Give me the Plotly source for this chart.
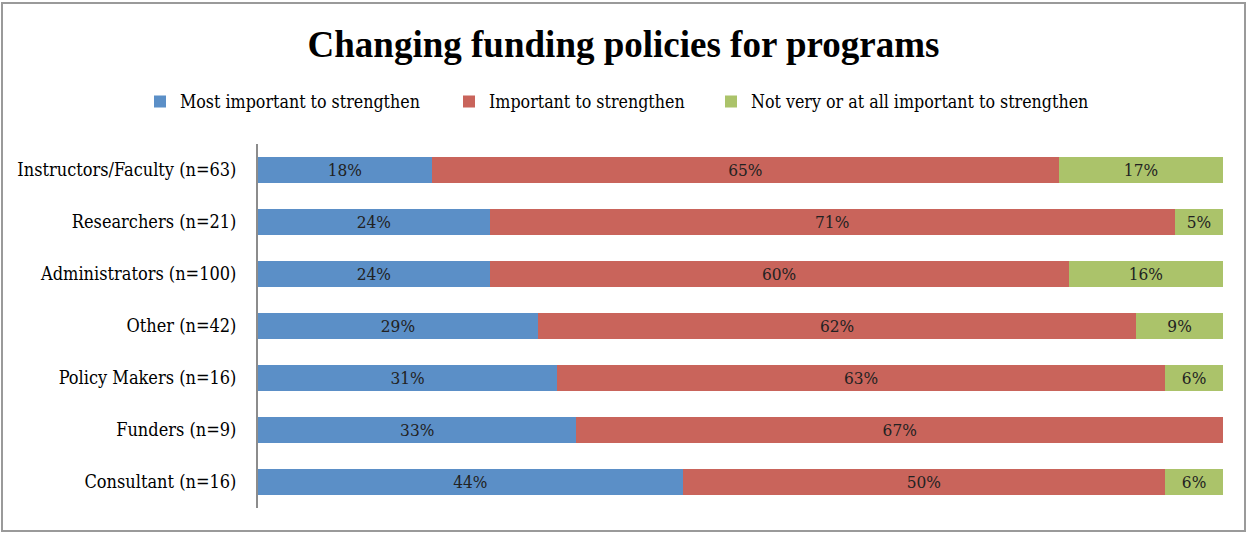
import plotly.graph_objects as go

categories = [
    "Instructors/Faculty (n=63)",
    "Researchers (n=21)",
    "Administrators (n=100)",
    "Other (n=42)",
    "Policy Makers (n=16)",
    "Funders (n=9)",
    "Consultant (n=16)",
]
most_important = [18, 24, 24, 29, 31, 33, 44]
important = [65, 71, 60, 62, 63, 67, 50]
not_important = [17, 5, 16, 9, 6, 0, 6]

series = [
    ("Most important to strengthen", most_important, "#5B8FC7"),
    ("Important to strengthen", important, "#C9645B"),
    ("Not very or at all important to strengthen", not_important, "#ABC36A"),
]

FONT = "DejaVu Serif Condensed"
TITLE_FONT = "Liberation Serif"
W, H = 1247, 534

# each series gets its own one-entry legend so the entries can be spaced freely
legend_names = ["legend", "legend2", "legend3"]
legend_left_px = [140, 449, 711]

fig = go.Figure()
for (name, values, color), lg in zip(series, legend_names):
    fig.add_trace(go.Bar(
        name=name,
        y=categories,
        x=values,
        orientation="h",
        legend=lg,
        marker=dict(color=color, line=dict(width=0)),
        text=[f"{v}%" if v > 0 else "" for v in values],
        textposition="inside",
        insidetextanchor="middle",
        textfont=dict(family=FONT, size=18, color="#222222"),
        hoverinfo="skip",
    ))

legend_style = dict(
    orientation="h",
    xref="container",
    xanchor="left",
    yref="container",
    y=1 - 102 / H,
    yanchor="middle",
    font=dict(family=FONT, size=17.7, color="black"),
    itemwidth=30,
    bgcolor="rgba(0,0,0,0)",
)

fig.update_layout(
    width=W,
    height=H,
    barmode="stack",
    bargap=0.5,
    paper_bgcolor="white",
    plot_bgcolor="white",
    margin=dict(l=258, r=24, t=144, b=26),
    title=dict(
        text="<b>Changing funding policies for programs</b>",
        x=0.5,
        xanchor="center",
        y=1 - 44 / H,
        yanchor="middle",
        font=dict(family=TITLE_FONT, size=37, color="black"),
    ),
    showlegend=True,
    uniformtext=dict(mode="show", minsize=10),
    shapes=[
        dict(
            type="rect", xref="paper", yref="paper",
            x0=-256 / 965, x1=1 + 22 / 965,
            y0=-23 / 364, y1=1 + 141 / 364,
            line=dict(color="#9A9A9A", width=2),
            fillcolor="rgba(0,0,0,0)",
            layer="below",
        )
    ],
)
for lg, left in zip(legend_names, legend_left_px):
    fig.update_layout({lg: dict(legend_style, x=left / W)})

fig.update_xaxes(
    range=[0, 100],
    showgrid=False,
    showticklabels=False,
    zeroline=False,
    showline=False,
    fixedrange=True,
)
fig.update_yaxes(
    autorange="reversed",
    showgrid=False,
    showline=True,
    linecolor="#8C8C8C",
    linewidth=2,
    ticks="",
    ticklabelstandoff=16,
    tickfont=dict(family=FONT, size=18, color="black"),
)

fig.write_html("out.html")
